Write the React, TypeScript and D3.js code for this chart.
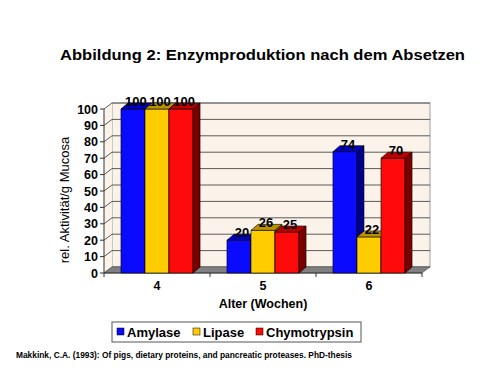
import React from "react";
import * as d3 from "d3";

const categories = ["4", "5", "6"];
const seriesNames = ["Amylase", "Lipase", "Chymotrypsin"];
const amylase = [100, 20, 74];
const lipase = [100, 26, 22];
const chymotrypsin = [100, 25, 70];
const yTicks = [0, 10, 20, 30, 40, 50, 60, 70, 80, 90, 100];

const frontColors = ["#0a0aff", "#ffcc00", "#ff0a0a"];
const topColors = ["#0000c0", "#b89400", "#c00000"];
const sideColors = ["#00008a", "#806600", "#7a0000"];

export default function App() {
  const W = 500, H = 375;
  const dx = 8, dy = -6;
  const x0 = 104, x1 = 422;
  const y = d3.scaleLinear().domain([0, 100]).range([273, 109]);
  const xCat = d3.scaleBand().domain(categories).range([x0, x1]).paddingInner(0.32).paddingOuter(0.16);
  const xSer = d3.scaleBand().domain(seriesNames).range([0, xCat.bandwidth()]);
  const values = [amylase, lipase, chymotrypsin];
  const bdx = 7, bdy = -6;

  const font = "Arial, 'Liberation Sans', sans-serif";

  const bars: React.ReactNode[] = [];
  const labels: React.ReactNode[] = [];
  categories.forEach((c, ci) => {
    seriesNames.forEach((s, si) => {
      const v = values[si][ci];
      const bx = (xCat(c) as number) + (xSer(s) as number);
      const bw = xSer.bandwidth();
      const top = y(v);
      const bot = y(0);
      bars.push(
        <g key={c + s} stroke="#000" strokeWidth={0.6} strokeLinejoin="round">
          <rect x={bx} y={top} width={bw} height={bot - top} fill={frontColors[si]} />
          <path d={`M${bx},${top} L${bx + bdx},${top + bdy} L${bx + bw + bdx},${top + bdy} L${bx + bw},${top} Z`} fill={topColors[si]} />
          <path d={`M${bx + bw},${top} L${bx + bw + bdx},${top + bdy} L${bx + bw + bdx},${bot + bdy} L${bx + bw},${bot} Z`} fill={sideColors[si]} />
        </g>
      );
      labels.push(
        <text key={"l" + c + s} x={bx + bw / 2 + 3} y={top - 3} textAnchor="middle" fontFamily={font} fontWeight="bold" fontSize={13} fill="#000">
          {v}
        </text>
      );
    });
  });

  return (
    <svg width={W} height={H} style={{ position: "absolute", left: 0, top: 0, background: "#fff" }}>
      <rect x={0} y={0} width={W} height={H} fill="#fff" />
      <text x={60} y={60} fontFamily={font} fontWeight="bold" fontSize={15.5} textLength={405} lengthAdjust="spacingAndGlyphs" fill="#000">
        Abbildung 2: Enzymproduktion nach dem Absetzen
      </text>

      {/* back wall */}
      <rect x={x0 + dx} y={y(100) + dy} width={x1 - x0} height={y(0) - y(100)} fill="#fbf3ea" stroke="#888" strokeWidth={0.8} />
      {/* side wall */}
      <path d={`M${x0},${y(0)} L${x0 + dx},${y(0) + dy} L${x0 + dx},${y(100) + dy} L${x0},${y(100)} Z`} fill="#fbf3ea" stroke="none" />
      {/* gridlines */}
      {yTicks.map((t) => (
        <path key={"g" + t} d={`M${x0},${y(t)} L${x0 + dx},${y(t) + dy} L${x1 + dx},${y(t) + dy}`} fill="none" stroke="#5a5a5a" strokeWidth={1} />
      ))}
      {/* floor */}
      <path d={`M${x0},${y(0)} L${x0 + dx},${y(0) + dy} L${x1 + dx},${y(0) + dy} L${x1},${y(0)} Z`} fill="#808080" stroke="#555" strokeWidth={0.6} />
      {/* axes */}
      <line x1={x0} y1={y(0)} x2={x0} y2={y(100)} stroke="#333" strokeWidth={1} />
      <line x1={x0} y1={y(0)} x2={x1} y2={y(0)} stroke="#333" strokeWidth={1} />
      {yTicks.map((t) => (
        <g key={"t" + t}>
          <line x1={x0 - 4} y1={y(t)} x2={x0} y2={y(t)} stroke="#333" strokeWidth={1} />
          <text x={98} y={y(t) + 4.5} textAnchor="end" fontFamily={font} fontWeight="bold" fontSize={12.5} fill="#000">
            {t}
          </text>
        </g>
      ))}
      {[0, 1, 2, 3].map((i) => {
        const xx = x0 + i * xCat.step();
        return <line key={"xt" + i} x1={xx} y1={y(0)} x2={xx} y2={y(0) + 4} stroke="#333" strokeWidth={1} />;
      })}

      {bars}
      {labels}

      {categories.map((c) => (
        <text key={"xl" + c} x={(xCat(c) as number) + xCat.bandwidth() / 2} y={290} textAnchor="middle" fontFamily={font} fontWeight="bold" fontSize={12.5} fill="#000">
          {c}
        </text>
      ))}
      <text x={263} y={308} textAnchor="middle" fontFamily={font} fontWeight="bold" fontSize={12.5} fill="#000">
        Alter (Wochen)
      </text>
      <text transform={`translate(69,${200}) rotate(-90)`} textAnchor="middle" fontFamily={font} fontSize={13} fill="#000">
        rel. Aktivität/g Mucosa
      </text>

      {/* legend */}
      <rect x={112} y={322} width={249} height={20} fill="#fff" stroke="#555" strokeWidth={1} />
      {seriesNames.map((s, i) => {
        const lx = [117, 193, 256][i];
        return (
          <g key={"lg" + s}>
            <rect x={lx} y={328} width={7} height={7} fill={frontColors[i]} stroke="#000" strokeWidth={0.5} />
            <text x={lx + 10} y={337} fontFamily={font} fontWeight="bold" fontSize={13} fill="#000">
              {s}
            </text>
          </g>
        );
      })}

      <text x={16} y={358} fontFamily={font} fontWeight="bold" fontSize={8.5} textLength={336} lengthAdjust="spacingAndGlyphs" fill="#000">
        Makkink, C.A. (1993): Of pigs, dietary proteins, and pancreatic proteases. PhD-thesis
      </text>
    </svg>
  );
}
